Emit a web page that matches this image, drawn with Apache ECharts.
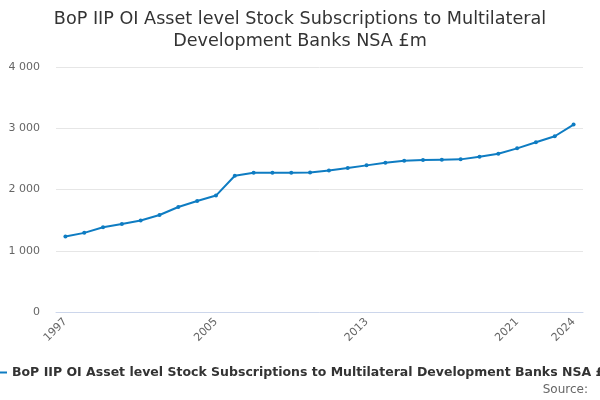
<!DOCTYPE html>
<html>
<head>
<meta charset="utf-8">
<script src="https://cdn.jsdelivr.net/npm/echarts@6/dist/echarts.min.js"></script>
<style>
  html, body { margin: 0; padding: 0; background: #fff; }
  #chart { width: 600px; height: 400px; }
</style>
</head>
<body>
<div id="chart"></div>
<script>
// years on the x axis
var years = ['1997', '1998', '1999', '2000', '2001', '2002', '2003', '2004', '2005', '2006',
  '2007', '2008', '2009', '2010', '2011', '2012', '2013', '2014', '2015', '2016',
  '2017', '2018', '2019', '2020', '2021', '2022', '2023', '2024'];

// £m
var stockValues = [1231, 1292, 1385, 1435, 1495, 1583, 1715, 1813, 1901, 2225,
  2274, 2274, 2274, 2279, 2312, 2350, 2394, 2438, 2470, 2481,
  2487, 2492, 2536, 2585, 2672, 2771, 2869, 3060];

var yTicks = [0, 1000, 2000, 3000, 4000];

var seriesName = 'BoP IIP OI Asset level Stock Subscriptions to Multilateral Development Banks NSA £m';
var font = 'DejaVu Sans, Verdana, sans-serif';

var chart = echarts.init(document.getElementById('chart'));

var option = {
  animation: false,
  textStyle: { fontFamily: font },
  title: {
    text: 'BoP IIP OI Asset level Stock Subscriptions to Multilateral\nDevelopment Banks NSA £m',
    left: 'center',
    top: 3,
    textStyle: {
      fontFamily: font,
      fontSize: 17.6,
      fontWeight: 'normal',
      color: '#333',
      lineHeight: 22
    }
  },
  legend: {
    data: [seriesName],
    left: -9,
    top: 366,
    padding: 0,
    itemWidth: 16,
    itemHeight: 2,
    icon: 'rect',
    textStyle: {
      fontFamily: font,
      fontSize: 12.5,
      fontWeight: 'bold',
      color: '#333'
    }
  },
  graphic: [{
    type: 'text',
    right: 12,
    top: 384,
    style: {
      text: 'Source:',
      font: '12px ' + font,
      fill: '#666'
    }
  }],
  grid: {
    left: 56,
    right: 17,
    top: 67,
    bottom: 88
  },
  xAxis: {
    type: 'category',
    data: years,
    boundaryGap: true,
    axisLine: { lineStyle: { color: '#ccd6eb' } },
    axisTick: {
      alignWithLabel: true,
      length: 10,
      lineStyle: { color: '#ccd6eb' },
      interval: function (i) { return i % 2 === 0 || i === years.length - 1; }
    },
    axisLabel: {
      rotate: 45,
      color: '#666',
      fontSize: 11,
      margin: 8,
      interval: function (i) { return i % 8 === 0 || i === years.length - 1; }
    }
  },
  yAxis: {
    type: 'value',
    min: yTicks[0],
    max: yTicks[yTicks.length - 1],
    interval: 1000,
    axisLabel: {
      color: '#666',
      fontSize: 11,
      margin: 16,
      formatter: function (v) {
        return String(v).replace(/\B(?=(\d{3})+(?!\d))/g, ' ');
      }
    },
    splitLine: { lineStyle: { color: '#e6e6e6' } }
  },
  series: [{
    name: seriesName,
    type: 'line',
    data: stockValues,
    color: '#0e7cc2',
    symbol: 'circle',
    symbolSize: 4,
    lineStyle: { width: 2 }
  }]
};

chart.setOption(option);
</script>
</body>
</html>
